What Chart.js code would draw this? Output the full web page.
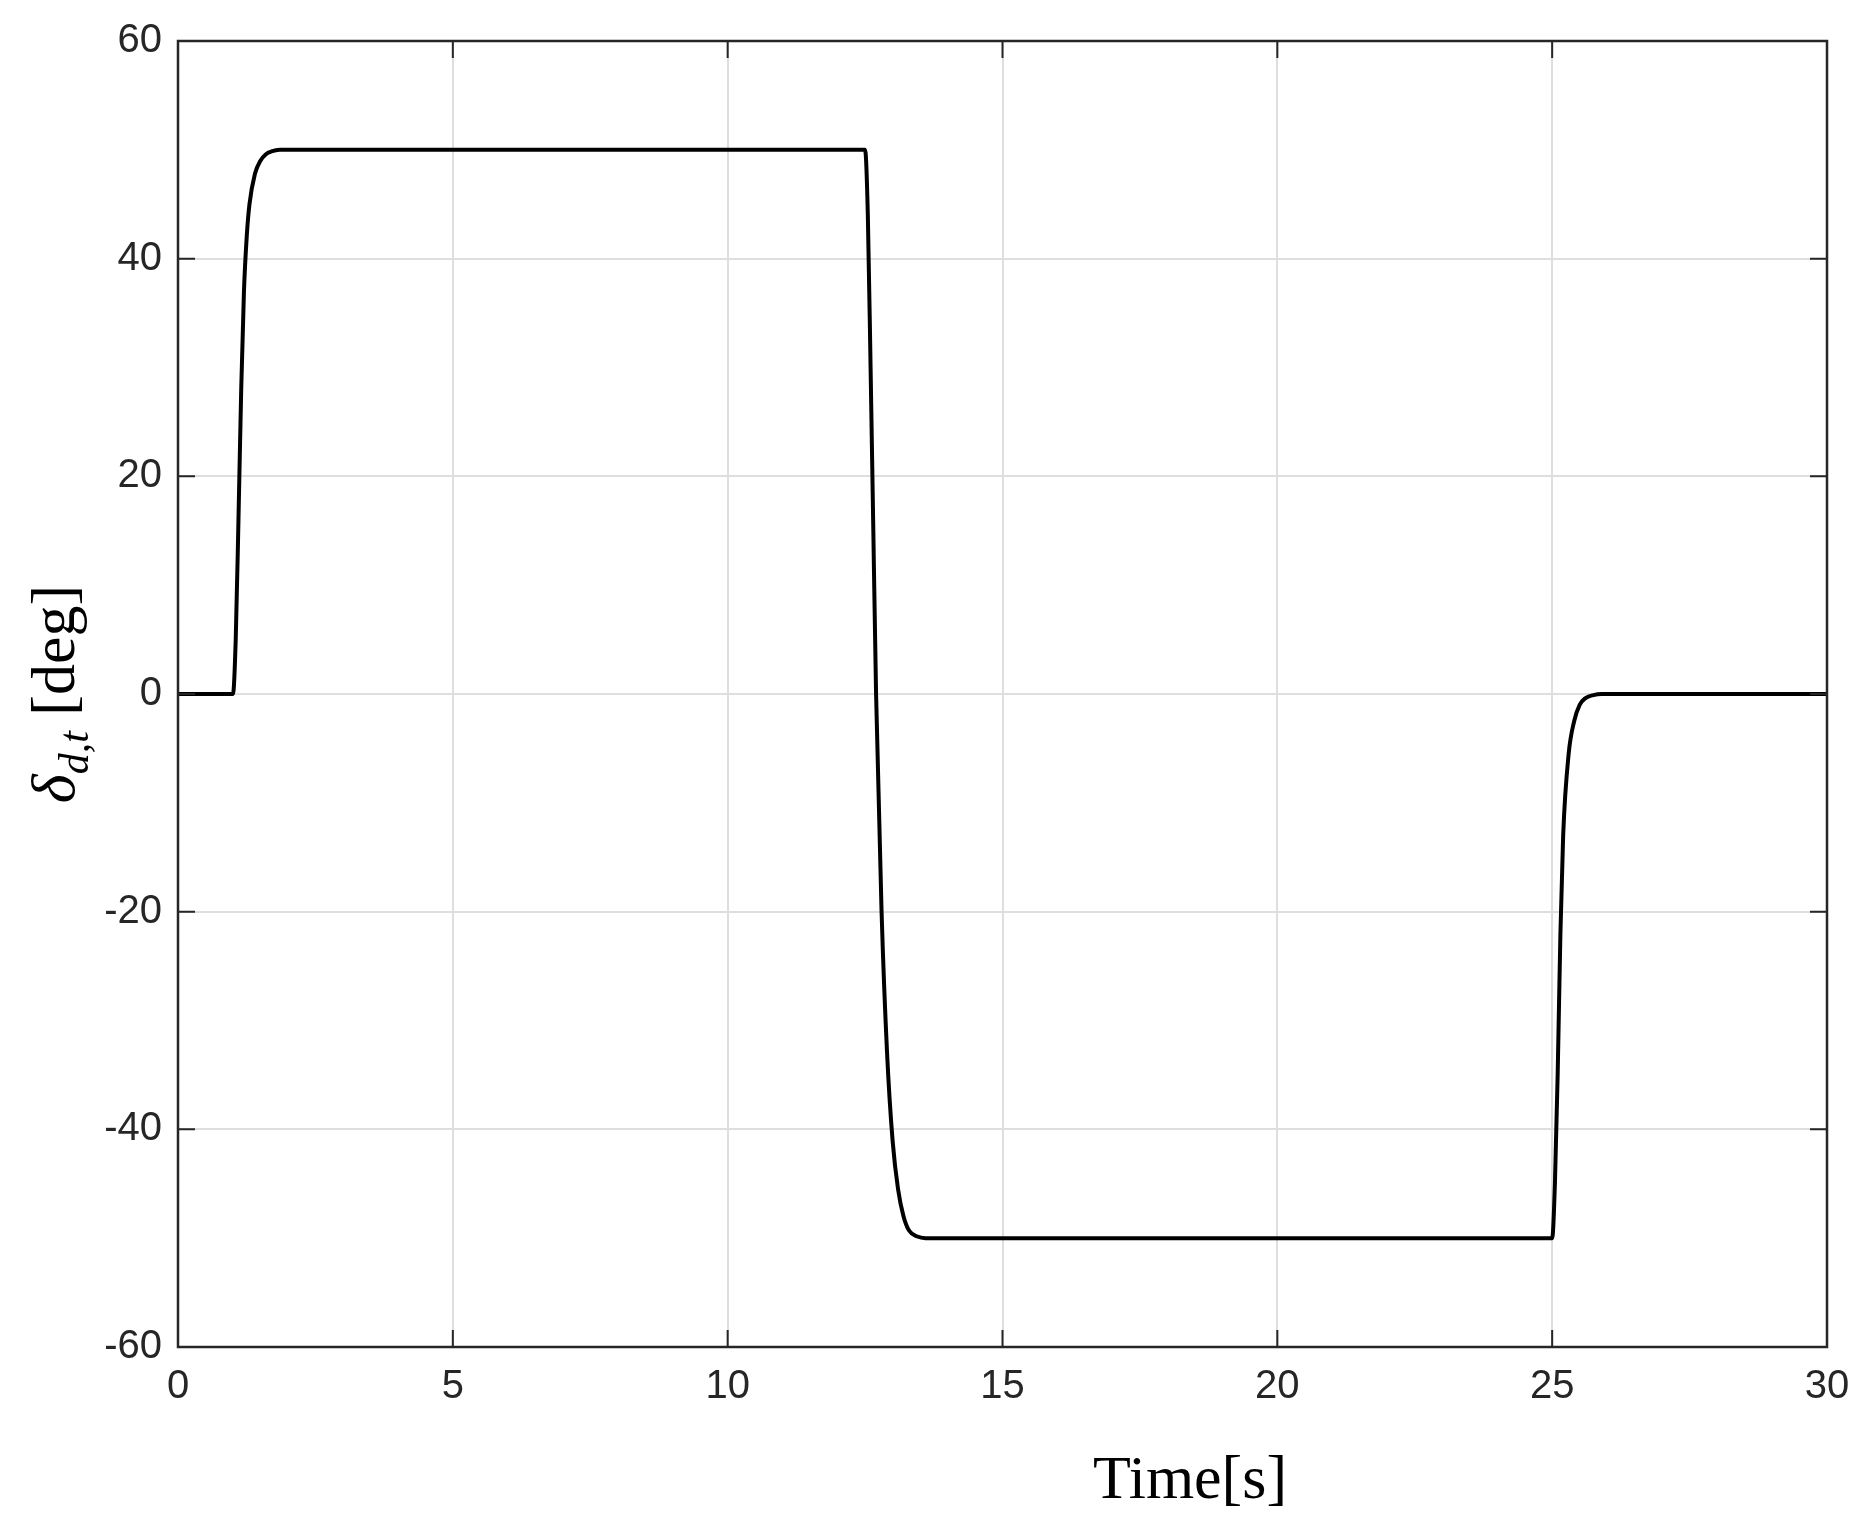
<!DOCTYPE html>
<html>
<head>
<meta charset="utf-8">
<script src="https://cdn.jsdelivr.net/npm/chart.js@4/dist/chart.umd.min.js"></script>
<style>
  body { margin: 0; background: #fff; }
  #wrap { width: 1873px; height: 1529px; }
</style>
</head>
<body>
<div id="wrap"><canvas id="c" width="1873" height="1529"></canvas></div>
<script>
// time [s] and steering value [deg]
const timeValues = [0, 1.0, 1.05, 1.1, 1.15, 1.2, 1.25, 1.3, 1.4, 1.5, 1.6, 1.7, 1.85, 2.0,
    12.5, 12.55, 12.6, 12.65, 12.7, 12.8, 12.9, 13.0, 13.1, 13.2, 13.3, 13.45, 13.6,
    25.0, 25.05, 25.1, 25.15, 25.2, 25.3, 25.4, 25.5, 25.6, 25.75, 25.9, 30];
const deltaValues = [0, 0, 5, 16, 28, 37, 42, 45, 47.8, 49.0, 49.6, 49.85, 50, 50,
    50, 44, 30, 15, 0, -20, -33, -41, -45.5, -48, -49.3, -49.85, -50,
    -50, -45, -35, -22, -13, -5.5, -2.5, -1.0, -0.4, -0.1, 0, 0];
const xTicks = [0, 5, 10, 15, 20, 25, 30];
const yTicks = [-60, -40, -20, 0, 20, 40, 60];

const points = timeValues.map((t, i) => ({ x: t, y: deltaValues[i] }));
const tickFont = { family: 'Liberation Sans', size: 40 };

// frame, inner ticks and axis labels
const framePlugin = {
    id: 'frame',
    afterDraw(chart) {
        const ctx = chart.ctx;
        const a = chart.chartArea;
        const xs = chart.scales.x, ys = chart.scales.y;
        ctx.save();
        ctx.strokeStyle = '#262626';
        ctx.lineWidth = 2.5;
        ctx.strokeRect(a.left, a.top, a.right - a.left, a.bottom - a.top);
        ctx.lineWidth = 2;
        const len = 17;
        ctx.beginPath();
        xTicks.forEach(v => {
            const px = xs.getPixelForValue(v);
            ctx.moveTo(px, a.bottom); ctx.lineTo(px, a.bottom - len);
            ctx.moveTo(px, a.top); ctx.lineTo(px, a.top + len);
        });
        yTicks.forEach(v => {
            const py = ys.getPixelForValue(v);
            ctx.moveTo(a.left, py); ctx.lineTo(a.left + len, py);
            ctx.moveTo(a.right, py); ctx.lineTo(a.right - len, py);
        });
        ctx.stroke();

        ctx.fillStyle = '#000';
        // x label
        ctx.font = "62px 'Liberation Serif'";
        ctx.textAlign = 'center';
        ctx.textBaseline = 'middle';
        ctx.fillText('Time[s]', 1190, 1482);

        // y label: δ_{d,t} [deg]
        ctx.textAlign = 'left';
        ctx.textBaseline = 'alphabetic';
        ctx.translate(62, (a.top + a.bottom) / 2);
        ctx.rotate(-Math.PI / 2);
        const big = "italic 62px 'Liberation Serif'";
        const sub = "italic 42px 'Liberation Serif'";
        const rest = "62px 'Liberation Serif'";
        ctx.font = big; const w1 = ctx.measureText('δ').width;
        ctx.font = sub; const w2 = ctx.measureText('d,t').width;
        ctx.font = rest; const w3 = ctx.measureText(' [deg]').width;
        let x0 = -(w1 + w2 + w3) / 2;
        ctx.font = big; ctx.fillText('δ', x0, 12); x0 += w1;
        ctx.font = sub; ctx.fillText('d,t', x0, 26); x0 += w2;
        ctx.font = rest; ctx.fillText(' [deg]', x0, 12);
        ctx.restore();
    }
};

new Chart(document.getElementById('c'), {
    type: 'scatter',
    data: {
        datasets: [{
            data: points,
            showLine: true,
            borderColor: '#000',
            borderWidth: 4,
            pointRadius: 0,
            cubicInterpolationMode: 'monotone',
            fill: false
        }]
    },
    options: {
        responsive: false,
        animation: false,
        layout: { padding: { top: 41, right: 46 } },
        plugins: { legend: { display: false }, tooltip: { enabled: false } },
        scales: {
            x: {
                type: 'linear', min: 0, max: 30,
                afterBuildTicks: s => { s.ticks = xTicks.map(v => ({ value: v })); },
                afterFit: s => { s.height = 182; },
                grid: { color: '#dedede', lineWidth: 2, drawTicks: false },
                border: { display: false },
                ticks: { font: tickFont, color: '#262626', padding: 16, maxRotation: 0 }
            },
            y: {
                type: 'linear', min: -60, max: 60,
                afterBuildTicks: s => { s.ticks = yTicks.map(v => ({ value: v })); },
                afterFit: s => { s.width = 178; },
                grid: { color: '#dedede', lineWidth: 2, drawTicks: false },
                border: { display: false },
                ticks: { font: tickFont, color: '#262626', padding: 16 }
            }
        }
    },
    plugins: [framePlugin]
});
</script>
</body>
</html>
